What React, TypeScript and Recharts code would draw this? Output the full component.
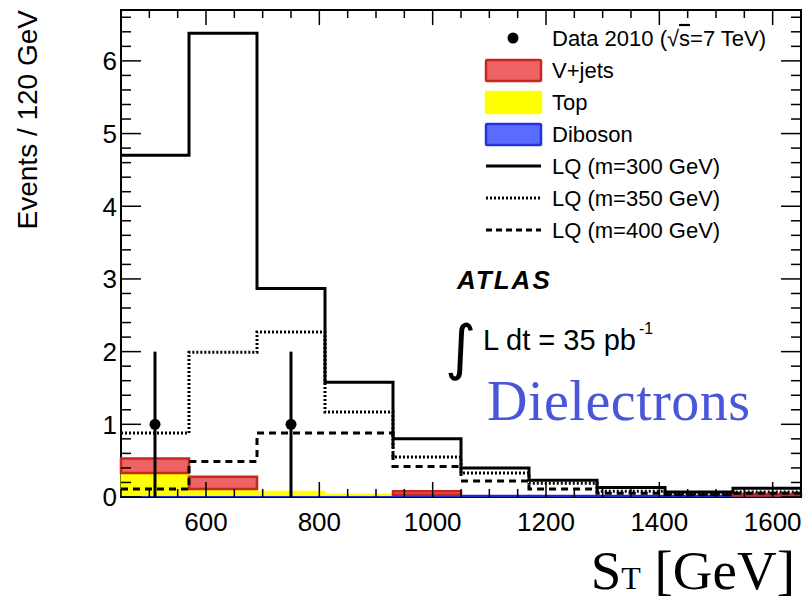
import React from "react";
import { ComposedChart, Bar, Line, Scatter, ErrorBar, XAxis, YAxis, ReferenceArea, ReferenceLine } from "recharts";

// bin edges in GeV, 120 GeV wide
const BIN_EDGES = [450, 570, 690, 810, 930, 1050, 1170, 1290, 1410, 1530, 1650];

// stacked backgrounds (bottom to top)
const DIBOSON = [0.02, 0.02, 0.02, 0.02, 0.02, 0.02, 0.02, 0.02, 0.02, 0.02];
const TOP = [0.31, 0.09, 0.06, 0.02, 0.01, 0, 0, 0, 0, 0];
const VJETS = [0.2, 0.17, 0, 0, 0.05, 0, 0, 0, 0, 0.02];

// signal histograms
const LQ300 = [4.7, 6.38, 2.87, 1.58, 0.8, 0.4, 0.23, 0.13, 0.07, 0.12];
const LQ350 = [0.88, 1.99, 2.27, 1.17, 0.55, 0.33, 0.19, 0.08, 0.04, 0.07];
const LQ400 = [0.11, 0.49, 0.88, 0.88, 0.42, 0.22, 0.11, 0.05, 0.03, 0.05];

// data points
const DATA_X = [510, 750];
const DATA_Y = [1, 1];
const DATA_ERR = [1, 1];

const X_LABELS = [600, 800, 1000, 1200, 1400, 1600];
const Y_LABELS = [0, 1, 2, 3, 4, 5, 6];
const X_MINOR = 50;
const Y_MINOR = 0.2;
const X_MIN = 450;
const X_MAX = 1650;
const Y_MAX = 6.7;

const PLOT = { left: 121, right: 801, top: 10, bottom: 497 };
const SANS = '"Liberation Sans", Arial, Helvetica, sans-serif';
const SERIF = '"Liberation Serif", "Times New Roman", serif';

// tick lengths expressed in axis units (ROOT style inward ticks)
const X_PER_PX = (X_MAX - X_MIN) / (PLOT.right - PLOT.left);
const Y_PER_PX = Y_MAX / (PLOT.bottom - PLOT.top);

const bins = BIN_EDGES.slice(0, -1).map((lo, i) => ({
  bin: lo,
  diboson: DIBOSON[i],
  top: TOP[i],
  vjets: VJETS[i],
}));

const step = (vals: number[]) =>
  BIN_EDGES.map((x, i) => ({ x, v: vals[Math.min(i, vals.length - 1)] }));

const points = DATA_X.map((x, i) => ({ x, y: DATA_Y[i], err: DATA_ERR[i] }));

const xTicks: number[] = [];
for (let t = X_MIN; t <= X_MAX; t += X_MINOR) xTicks.push(t);
const yTicks: number[] = [];
for (let k = 0; k * Y_MINOR <= Y_MAX; k++) yTicks.push(+(k * Y_MINOR).toFixed(2));

const isMajorY = (v: number) => Y_LABELS.some((l) => Math.abs(l - v) < 1e-6);

const XTick = (props: any) => {
  const { x, payload } = props;
  const v = payload.value;
  if (!X_LABELS.includes(v)) return <g />;
  return (
    <text x={x} y={531} textAnchor="middle" fontSize={26} fontFamily={SANS} fill="#000">
      {v}
    </text>
  );
};

const YTick = (props: any) => {
  const { y, payload } = props;
  const v = payload.value;
  if (!isMajorY(v)) return <g />;
  return (
    <text x={PLOT.left - 4} y={y} dy="0.36em" textAnchor="end" fontSize={26} fontFamily={SANS} fill="#000">
      {Math.round(v)}
    </text>
  );
};

const legendRows = [
  { label: "data", kind: "dot" },
  { label: "V+jets", kind: "box", fill: "#ee6363", stroke: "#c8271f" },
  { label: "Top", kind: "box", fill: "#ffff00", stroke: "#ffff00" },
  { label: "Diboson", kind: "box", fill: "#5a6bff", stroke: "#2233dd" },
  { label: "LQ (m=300 GeV)", kind: "line", dash: undefined },
  { label: "LQ (m=350 GeV)", kind: "line", dash: "2 2" },
  { label: "LQ (m=400 GeV)", kind: "line", dash: "6 4" },
];

const tickSegments: { a: { x: number; y: number }; b: { x: number; y: number } }[] = [];
yTicks.forEach((v) => {
  const len = (isMajorY(v) ? 20 : 10) * X_PER_PX;
  tickSegments.push({ a: { x: X_MIN, y: v }, b: { x: X_MIN + len, y: v } });
  tickSegments.push({ a: { x: X_MAX - len, y: v }, b: { x: X_MAX, y: v } });
});
xTicks.forEach((t) => {
  const len = (X_LABELS.includes(t) ? 15 : 8) * Y_PER_PX;
  tickSegments.push({ a: { x: t, y: 0 }, b: { x: t, y: len } });
  tickSegments.push({ a: { x: t, y: Y_MAX - len }, b: { x: t, y: Y_MAX } });
});

const App: React.FC = () => {
  return (
    <div style={{ position: "absolute", left: 0, top: 0, width: 806, height: 603, background: "#fff" }}>
      <ComposedChart
        width={806}
        height={603}
        data={bins}
        margin={{ top: PLOT.top, right: 806 - PLOT.right, bottom: 0, left: 0 }}
        barCategoryGap={0}
        barGap={0}
      >
        <XAxis xAxisId="cat" dataKey="bin" type="category" hide />
        <XAxis
          xAxisId="num"
          dataKey="x"
          type="number"
          domain={[X_MIN, X_MAX]}
          allowDataOverflow
          ticks={xTicks}
          interval={0}
          tick={<XTick />}
          tickLine={false}
          axisLine={false}
          height={106}
        />
        <YAxis
          type="number"
          domain={[0, Y_MAX]}
          allowDataOverflow
          ticks={yTicks}
          interval={0}
          tick={<YTick />}
          tickLine={false}
          axisLine={false}
          width={PLOT.left}
        />
        <Bar xAxisId="cat" dataKey="diboson" stackId="bg" fill="#5a6bff" stroke="#1a2bd6" strokeWidth={1.5} isAnimationActive={false} />
        <Bar xAxisId="cat" dataKey="top" stackId="bg" fill="#ffff00" stroke="#ffff00" isAnimationActive={false} />
        <Bar xAxisId="cat" dataKey="vjets" stackId="bg" fill="#ee6363" stroke="#c8271f" strokeWidth={2.5} isAnimationActive={false} />
        <Line xAxisId="num" data={step(LQ350)} dataKey="v" type="stepAfter" stroke="#000" strokeWidth={3} strokeDasharray="2 2" dot={false} isAnimationActive={false} />
        <Line xAxisId="num" data={step(LQ400)} dataKey="v" type="stepAfter" stroke="#000" strokeWidth={3} strokeDasharray="7 5" dot={false} isAnimationActive={false} />
        <Line xAxisId="num" data={step(LQ300)} dataKey="v" type="stepAfter" stroke="#000" strokeWidth={3} dot={false} isAnimationActive={false} />
        <Scatter
          xAxisId="num"
          data={points}
          dataKey="y"
          isAnimationActive={false}
          shape={(p: any) => <circle cx={p.cx} cy={p.cy} r={5.5} fill="#000" />}
        >
          <ErrorBar dataKey="err" direction="y" width={0} stroke="#000" strokeWidth={3} />
        </Scatter>
        {tickSegments.map((s, i) => (
          <ReferenceLine
            key={i}
            xAxisId="num"
            segment={[s.a, s.b]}
            stroke="#000"
            strokeWidth={1.5}
            ifOverflow="visible"
          />
        ))}
        <ReferenceArea xAxisId="num" x1={X_MIN} x2={X_MAX} y1={0} y2={Y_MAX} fill="none" stroke="#000" strokeWidth={2} ifOverflow="visible" />
      </ComposedChart>

      <svg width={806} height={603} style={{ position: "absolute", left: 0, top: 0, pointerEvents: "none" }}>
        <text transform="rotate(-90)" x={-10} y={37} textAnchor="end" fontSize={28} fontFamily={SANS} fill="#000">
          Events / 120 GeV
        </text>

        {legendRows.map((r, i) => {
          const cy = 38 + i * 32;
          return (
            <g key={r.label}>
              {r.kind === "dot" && <circle cx={513} cy={cy} r={5.5} fill="#000" />}
              {r.kind === "box" && (
                <rect x={486} y={cy - 10} width={55} height={21} fill={r.fill} stroke={r.stroke} strokeWidth={2.5} rx={1} />
              )}
              {r.kind === "line" && (
                <line x1={486} x2={541} y1={cy} y2={cy} stroke="#000" strokeWidth={3} strokeDasharray={r.dash} />
              )}
              <text x={552} y={cy} dy="0.36em" fontSize={22} fontFamily={SANS} fill="#000">
                {r.kind === "dot" ? (
                  <>
                    Data 2010 (√<tspan textDecoration="overline">s</tspan>=7 TeV)
                  </>
                ) : (
                  r.label
                )}
              </text>
            </g>
          );
        })}

        <text x={457} y={289} fontSize={26} fontWeight="bold" fontStyle="italic" letterSpacing={2} fontFamily={SANS} fill="#000">
          ATLAS
        </text>
        <text x={445} y={368} fontSize={60} fontFamily="DejaVu Sans" fill="#000">
          ∫
        </text>
        <text x={483} y={350} fontSize={29} fontFamily={SANS} fill="#000">
          L dt = 35 pb
        </text>
        <text x={639} y={334} fontSize={16} fontFamily={SANS} fill="#000">
          -1
        </text>
        <text x={487} y={420} fontSize={56} letterSpacing={0.5} fontFamily={SERIF} fill="#4a56d9">
          Dielectrons
        </text>
        <text x={795} y={589} textAnchor="end" fontSize={55} fontFamily={SERIF} fill="#000">
          S<tspan fontSize={32}>T</tspan> [GeV]
        </text>
      </svg>
    </div>
  );
};

export default App;
